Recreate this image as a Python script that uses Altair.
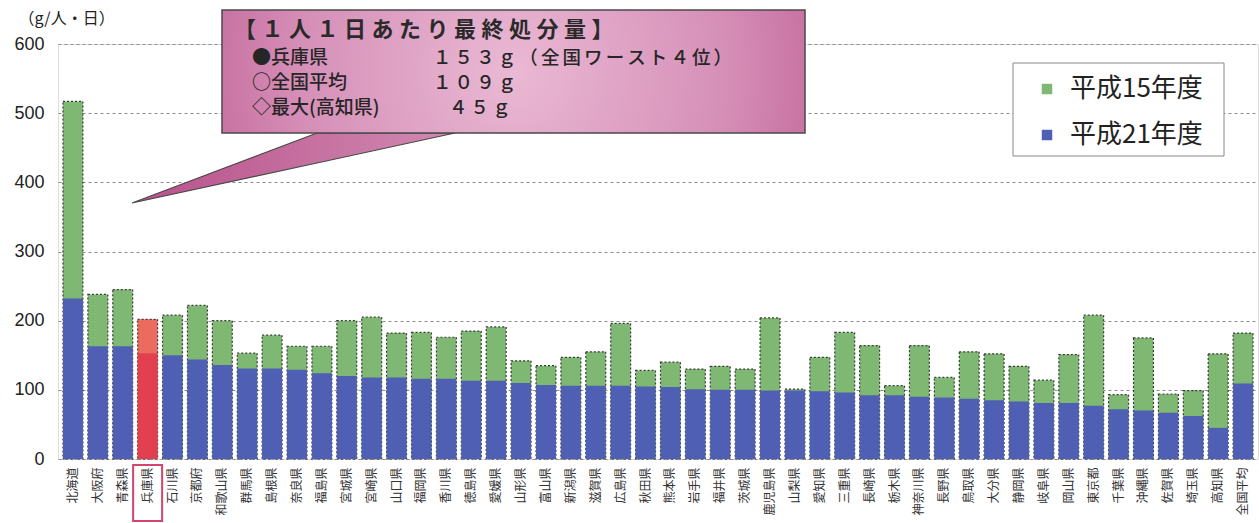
import altair as alt
import pandas as pd

# ---------------- data ----------------
prefs = ["北海道", "大阪府", "青森県", "兵庫県", "石川県", "京都府", "和歌山県", "群馬県",
         "島根県", "奈良県", "福島県", "宮城県", "宮崎県", "山口県", "福岡県", "香川県",
         "徳島県", "愛媛県", "山形県", "富山県", "新潟県", "滋賀県", "広島県", "秋田県",
         "熊本県", "岩手県", "福井県", "茨城県", "鹿児島県", "山梨県", "愛知県", "三重県",
         "長崎県", "栃木県", "神奈川県", "長野県", "鳥取県", "大分県", "静岡県", "岐阜県",
         "岡山県", "東京都", "千葉県", "沖縄県", "佐賀県", "埼玉県", "高知県", "全国平均"]

h15 = [517, 238, 245, 202, 208, 222, 200, 153, 179, 163, 163, 200, 205, 182, 183, 176,
       185, 191, 142, 135, 147, 155, 196, 128, 140, 130, 134, 130, 204, 101, 147, 183,
       164, 106, 164, 118, 155, 152, 134, 114, 151, 208, 93, 175, 94, 99, 152, 182]

h21 = [232, 163, 163, 153, 150, 144, 136, 131, 131, 129, 124, 120, 118, 118, 116, 116,
       113, 113, 110, 107, 106, 106, 106, 105, 104, 101, 100, 100, 99, 99, 98, 96,
       92, 92, 90, 89, 87, 85, 83, 81, 81, 77, 72, 70, 67, 62, 45, 109]

series = ["平成15年度", "平成21年度"]
highlight = "兵庫県"
y_ticks = [0, 100, 200, 300, 400, 500, 600]
y_title = "（g/人・日）"

heading = "【１人１日あたり最終処分量】"
row_labels = ["●兵庫県", "○全国平均", "◇最大(高知県)"]
row_values = ["１５３ｇ（全国ワースト４位）", "１０９ｇ", "４５ｇ"]

rows = []
for p, a, b in zip(prefs, h15, h21):
    rows.append({"pref": p, "year": series[0], "value": a})
    rows.append({"pref": p, "year": series[1], "value": b})
df = pd.DataFrame(rows)

# ---------------- style ----------------
GREEN = "#7fb872"
BLUE = "#4f5fb4"
RED15 = "#ec6b5f"
RED21 = "#e2404f"
JP = "Noto Sans CJK JP"
W, H = 1200, 415

x_enc = alt.X("pref:N", sort=prefs,
              scale=alt.Scale(domain=prefs, paddingInner=0.2, paddingOuter=0.2),
              axis=alt.Axis(title=None, labelAngle=270, labelFont=JP, labelFontSize=12,
                            labelColor="#333", labelPadding=8, ticks=False, domain=False,
                            labelOverlap=False, labelBound=False))
y_enc = alt.Y("value:Q", scale=alt.Scale(domain=[0, 600], nice=False),
              axis=alt.Axis(values=y_ticks, title=y_title, titleAngle=0, titleAlign="left",
                            titleBaseline="middle", titleX=-40, titleY=-26, titleFont=JP,
                            titleFontSize=16, titleFontWeight="normal", titleColor="#222",
                            labelFont="Liberation Sans", labelFontSize=18, labelColor="#222",
                            labelPadding=14, ticks=False, domain=False, grid=True,
                            gridColor="#8c8c8c", gridDash=[3, 3], gridWidth=1))
color_enc = alt.Color("year:N",
                      scale=alt.Scale(domain=series, range=[GREEN, BLUE]),
                      legend=alt.Legend(title=None, orient="none", legendX=976, legendY=32,
                                        direction="vertical", symbolType="square",
                                        symbolSize=110, symbolStrokeWidth=0,
                                        labelFont=JP, labelFontSize=26, labelColor="#222",
                                        labelOffset=10, rowPadding=20, padding=0,
                                        symbolOffset=0))

base = alt.Chart(df)
is15 = alt.datum.year == series[0]
is21 = alt.datum.year == series[1]
isH = alt.datum.pref == highlight
notH = alt.datum.pref != highlight

green = base.transform_filter(is15 & notH).mark_bar(
    stroke="#3a3a3a", strokeDash=[2, 2], strokeWidth=1.2
).encode(x=x_enc, y=y_enc, color=color_enc)

blue = base.transform_filter(is21 & notH).mark_bar().encode(x=x_enc, y=y_enc, color=color_enc)

hy15 = base.transform_filter(is15 & isH).mark_bar(
    color=RED15, stroke="#3a3a3a", strokeDash=[2, 2], strokeWidth=1.2
).encode(x=x_enc, y=y_enc)

hy21 = base.transform_filter(is21 & isH).mark_bar(color=RED21).encode(x=x_enc, y=y_enc)

lbox = base.transform_filter(is21 & isH).mark_bar(
    width=29, fillOpacity=0, stroke="#d2456e", strokeWidth=2
).encode(x=x_enc, y=alt.value(421), y2=alt.value(477))

bars = alt.layer(green, blue, hy15, hy21, lbox)

one = pd.DataFrame({"k": [0]})

# legend frame
legend_frame = alt.Chart(one).mark_rect(fill="white", stroke="#888", strokeWidth=1).encode(
    x=alt.value(955), x2=alt.value(1166), y=alt.value(19), y2=alt.value(112))

# ---------------- callout ----------------
box_grad = alt.RadialGradient(
    gradient="radial",
    stops=[alt.GradientStop(offset=0, color="#eab9d4"),
           alt.GradientStop(offset=0.5, color="#d690b8"),
           alt.GradientStop(offset=1, color="#b64a84")],
    x1=0.5, y1=0.5, r1=0, x2=0.5, y2=0.5, r2=0.72)
ptr_grad = alt.LinearGradient(
    gradient="linear",
    stops=[alt.GradientStop(offset=0, color="#b8508a"),
           alt.GradientStop(offset=1, color="#d18ab2")],
    x1=0, y1=0, x2=1, y2=0)

box = alt.Chart(one).mark_rect(fill=box_grad, stroke="#4a4a4a", strokeWidth=1.5).encode(
    x=alt.value(164), x2=alt.value(747), y=alt.value(-34), y2=alt.value(89))

ptr_df = pd.DataFrame({"px": [74, 259, 397], "py": [159, 89, 89], "py2": [159, 119, 89]})
pointer = alt.Chart(ptr_df).mark_area(fill=ptr_grad, stroke="#4a4a4a", strokeWidth=1.2).encode(
    x=alt.X("px:Q", scale=None, axis=None),
    y=alt.Y("py:Q", scale=None, axis=None),
    y2="py2:Q")

texts = [alt.Chart(one).mark_text(align="left", baseline="middle", font=JP, fontSize=22,
                                  fontWeight="bold", color="#2a2a2a").encode(
    x=alt.value(176), y=alt.value(-14), text=alt.value("\u2005".join(list(heading))))]
row_y = [14, 39, 64]
val_x = [375, 375, 391]
for lab, val, yy, vx in zip(row_labels, row_values, row_y, val_x):
    texts.append(alt.Chart(one).mark_text(align="left", baseline="middle", font=JP,
                                          fontSize=19, fontWeight=500, color="#262626").encode(
        x=alt.value(194), y=alt.value(yy), text=alt.value(lab)))
    texts.append(alt.Chart(one).mark_text(align="left", baseline="middle", font=JP,
                                          fontSize=18.5, fontWeight=500, color="#262626").encode(
        x=alt.value(vx), y=alt.value(yy), text=alt.value("\u2006".join(list(val)))))

chart = alt.layer(legend_frame, bars, pointer, box, *texts).resolve_scale(
    x="independent", y="independent"
).properties(
    width=W, height=H,
    padding={"left": 58, "top": 44, "right": 1, "bottom": 64},
    autosize=alt.AutoSizeParams(type="none"),
).configure_view(stroke="#555", strokeWidth=1).configure(background="white")

chart.save("out.html", embed_options={"renderer": "svg", "actions": False})
